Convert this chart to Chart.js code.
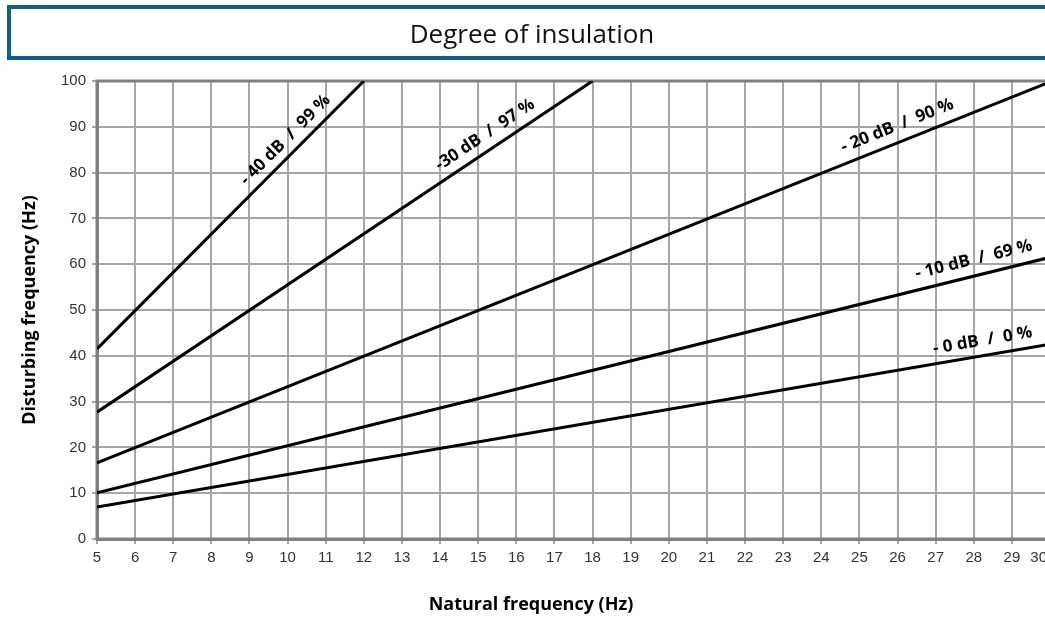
<!DOCTYPE html>
<html>
<head>
<meta charset="utf-8">
<title>Degree of insulation</title>
<script src="https://cdn.jsdelivr.net/npm/chart.js@4/dist/chart.umd.min.js"></script>
<style>
  html, body { margin: 0; padding: 0; width: 1045px; height: 618px; overflow: hidden; background: #ffffff; }
  #head {
    position: absolute; left: 7px; top: 5px; width: 1042px; height: 47px;
    border: 4px solid #0f5e8c; border-right: none;
    display: flex; align-items: center; justify-content: center;
    font-family: "Open Sans", sans-serif; font-size: 26px; color: #111111;
    z-index: 2; background: transparent;
  }
  #wrap { position: absolute; left: 0; top: 0; width: 1065px; height: 618px; }
</style>
</head>
<body>
<div id="head">Degree of insulation</div>
<div id="wrap"><canvas id="chart"></canvas></div>
<script>
// Natural frequency (Hz) on x, disturbing frequency (Hz) on y.
const xTicksMin = 5;
const xTicksMax = 30;
const yTicksMin = 0;
const yTicksMax = 100;
const xAxisTitle = 'Natural frequency (Hz)';
const yAxisTitle = 'Disturbing frequency (Hz)';

// Each insulation curve is a straight line: start and end points.
const seriesNames = ['- 0 dB  /  0 %', '- 10 dB  /  69 %', '- 20 dB  /  90 %', '-30 dB  /  97 %', '- 40 dB  /  99 %'];
const natFreq0   = [5, 30];   const dist0   = [7.0, 42.5];
const natFreq10  = [5, 30];   const dist10  = [10.1, 61.5];
const natFreq20  = [5, 30];   const dist20  = [16.6, 99.8];
const natFreq30  = [5, 18];   const dist30  = [27.7, 100];
const natFreq40  = [5, 12];   const dist40  = [41.5, 100];

const seriesX = [natFreq0, natFreq10, natFreq20, natFreq30, natFreq40];
const seriesY = [dist0, dist10, dist20, dist30, dist40];

// Where each curve's label sits along it (x value) and how far above it (px).
const labelAt  = [28.3, 28.1, 26.15, 15.4, 10.2];
const labelGap = [15, 16, 16, 15, 14];

const datasets = seriesNames.map((name, i) => ({
  label: name,
  data: seriesX[i].map((x, j) => ({ x: x, y: seriesY[i][j] })),
  showLine: true,
  borderColor: '#000000',
  borderWidth: 3,
  pointRadius: 0,
  fill: false
}));

const tickFont = { family: '"Liberation Sans", Arial, sans-serif', size: 15 };
const titleFont = 'bold 18px "Open Sans", sans-serif';

// Grey frame round the plotting area.
const frame = {
  id: 'frame',
  beforeDatasetsDraw(chart) {
    const { ctx, chartArea: a } = chart;
    ctx.save();
    ctx.strokeStyle = '#808080';
    ctx.lineWidth = 3;
    ctx.strokeRect(a.left, a.top, a.right - a.left, a.bottom - a.top);
    ctx.restore();
  }
};

// Last x label kept inside the page edge, and the x-axis title.
const axisText = {
  id: 'axisText',
  afterDraw(chart) {
    const { ctx } = chart;
    const xs = chart.scales.x;
    ctx.save();
    ctx.fillStyle = '#333333';
    ctx.font = tickFont.size + 'px ' + tickFont.family;
    ctx.textAlign = 'right';
    ctx.textBaseline = 'top';
    ctx.fillText(String(xTicksMax), xs.getPixelForValue(xTicksMax) - 3, xs.top + 11);
    ctx.fillStyle = '#000000';
    ctx.font = titleFont;
    ctx.textAlign = 'center';
    ctx.textBaseline = 'middle';
    ctx.fillText(xAxisTitle, 531, 605);
    ctx.restore();
  }
};

// Curve names written along each line.
const curveLabels = {
  id: 'curveLabels',
  afterDatasetsDraw(chart) {
    const { ctx } = chart;
    const xs = chart.scales.x, ys = chart.scales.y;
    ctx.save();
    ctx.font = 'bold 17px "Open Sans", sans-serif';
    ctx.fillStyle = '#000000';
    ctx.textAlign = 'center';
    ctx.textBaseline = 'middle';
    chart.data.datasets.forEach((ds, i) => {
      const pts = ds.data;
      const p0 = pts[0], p1 = pts[pts.length - 1];
      const t = (labelAt[i] - p0.x) / (p1.x - p0.x);
      const yv = p0.y + t * (p1.y - p0.y);
      const px = xs.getPixelForValue(labelAt[i]);
      const py = ys.getPixelForValue(yv);
      const ang = Math.atan2(ys.getPixelForValue(p1.y) - ys.getPixelForValue(p0.y),
                             xs.getPixelForValue(p1.x) - xs.getPixelForValue(p0.x));
      ctx.save();
      ctx.translate(px, py);
      ctx.rotate(ang);
      ctx.fillText(ds.label, 0, -labelGap[i]);
      ctx.restore();
    });
    ctx.restore();
  }
};

new Chart(document.getElementById('chart'), {
  type: 'scatter',
  data: { datasets: datasets },
  options: {
    responsive: true,
    maintainAspectRatio: false,
    animation: false,
    layout: { padding: { left: 0, top: 81, right: 15, bottom: 0 } },
    plugins: { legend: { display: false }, tooltip: { enabled: false }, title: { display: false } },
    scales: {
      x: {
        type: 'linear',
        min: xTicksMin, max: xTicksMax,
        afterFit(scale) { scale.height = 79; },
        ticks: {
          stepSize: 1, color: '#333333', font: tickFont, padding: 5, maxRotation: 0, autoSkip: false,
          callback: (v) => (v === xTicksMax ? '' : String(v))
        },
        grid: { color: '#a6a6a6', lineWidth: 2, tickLength: 5, tickColor: '#a6a6a6' },
        border: { display: true, color: '#808080', width: 3 },
        title: { display: false, text: xAxisTitle }
      },
      y: {
        type: 'linear',
        min: yTicksMin, max: yTicksMax,
        afterFit(scale) { scale.width = 97; },
        ticks: { stepSize: 10, color: '#333333', font: tickFont, padding: 6 },
        grid: { color: '#a6a6a6', lineWidth: 2, tickLength: 5, tickColor: '#a6a6a6' },
        border: { display: true, color: '#808080', width: 3 },
        title: {
          display: true, text: yAxisTitle, color: '#000000',
          font: { family: '"Open Sans", sans-serif', size: 18, weight: 'bold' },
          padding: { top: 19, bottom: 0 }
        }
      }
    }
  },
  plugins: [frame, curveLabels, axisText]
});
</script>
</body>
</html>
